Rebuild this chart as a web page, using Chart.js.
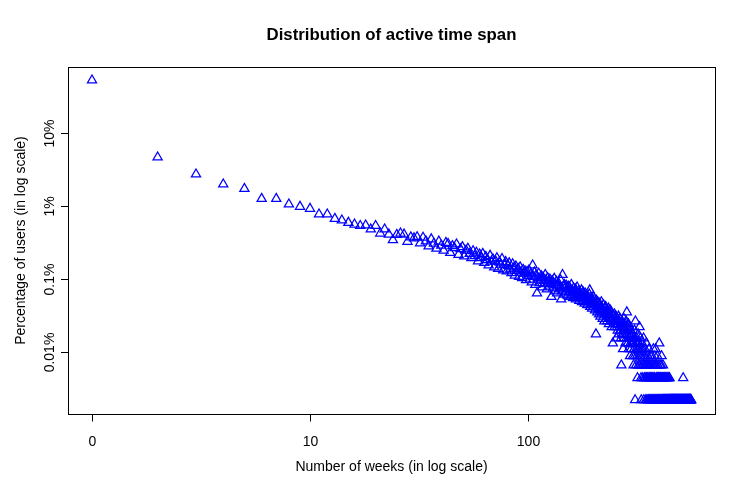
<!DOCTYPE html>
<html><head><meta charset="utf-8">
<script src="https://cdn.jsdelivr.net/npm/chart.js@4.4.1/dist/chart.umd.min.js"></script>
<style>html,body{margin:0;padding:0;background:#fff;}#wrap{width:750px;height:500px;}</style>
</head><body><div id="wrap"><canvas id="c" width="750" height="500"></canvas></div>
<script>
const chartTitle = 'Distribution of active time span';
const xAxisTitle = 'Number of weeks (in log scale)';
const yAxisTitle = 'Percentage of users (in log scale)';
const totalUsers = 45500;

// number of users per active-time-span week (week index = position + first week)
const usersWeeks001to030 = [24000,2113,1236,901,785,573,573,480,446,419,350,350,305,290,269,255,244,248,218,244,192,218,186,156,184,192,186,148,170,165];
const usersWeeks031to100 = [171,141,168,150,128,160,139,119,149,131,112,143,138,104,129,121,136,98,117,125,93,112,119,101,88,110,94,105,80,99,
  88,101,76,92,83,70,95,79,85,66,80,88,63,77,72,86,60,71,78,58,69,75,62,55,73,64,51,68,59,63,49,66,56,47,61,54,58,44,57,50];
const usersWeeks101to200 = [60,45,53,41,70,49,56,38,51,29,47,54,40,45,50,35,48,43,39,52,44,33,47,41,36,45,39,26,43,34,40,46,31,38,42,29,37,40,33,35,44,24,31,52,36,28,38,34,30,37,
  33,27,36,30,35,26,32,38,28,31,25,34,29,27,33,24,30,35,26,28,31,23,29,27,25,32,22,28,30,24,26,21,29,25,23,27,20,26,24,22,28,32,19,24,21,25,18,23,26,20];
const usersWeeks201to300 = [21,24,17,20,8,23,19,16,22,18,20,15,21,17,14,19,22,16,18,13,17,20,15,12,18,16,19,13,15,17,12,16,14,18,11,15,13,17,12,14,16,10,13,15,6,12,14,11,15,10,
  13,11,14,7,12,10,13,9,11,14,8,12,10,13,9,11,7,3,10,12,8,11,5,9,13,7,10,8,11,6,9,12,7,16,8,10,6,9,11,5,8,7,10,4,6,9,5,8,7,6];
const usersWeeks301to400 = [6,8,4,6,3,7,5,9,4,1,12,6,3,5,7,4,6,2,5,8,3,5,6,4,10,3,5,7,4,2,1,5,3,6,4,2,5,3,7,1,4,2,3,5,2,4,1,3,6,2,
  1,3,2,4,1,2,3,1,5,2,1,3,2,4,1,2,3,1,2,4,1,2,3,1,2,5,1,3,2,1,2,4,1,3,5,1,2,3,1,2,1,4,2,1,3,2,1,2,1,6];
const usersWeeks401to500 = [2,1,3,1,2,1,2,3,1,4,2,1,1,2,1,3,1,2,1,1,2,1,1,2,1,1,2,1,1,2,1,1,1,2,1,1,2,1,2,1,1,1,2,1,1,2,1,1,1,1,
  1,1,1,1,1,1,1,1,1,1,1,1,1,1,1,1,1,1,1,1,1,1,1,1,1,1,1,1,1,1,1,1,1,1,1,1,1,1,1,1,1,1,1,1,1,1,1,1,1,1];
const usersWeeks501to560 = [1,1,1,1,1,1,1,1,1,1,1,1,1,1,2,1,1,1,1,1,1,1,1,1,1,1,1,1,1,1,1,1,1,1,1,1,1,1,1,1,1,1,1,1,1,1,1,1,1,1,1,1,1,1,1,1,1,1,1,1];

const xTickValues = [1, 10, 100];
const xTickLabels = ['0', '10', '100'];
const yTickValues = [10, 1, 0.1, 0.01];
const yTickLabels = ['10%', '1%', '0.1%', '0.01%'];

const weeklyUsers = [].concat(usersWeeks001to030, usersWeeks031to100, usersWeeks101to200,
  usersWeeks201to300, usersWeeks301to400, usersWeeks401to500, usersWeeks501to560);
const points = weeklyUsers.map((n, i) => ({ x: i + 1, y: n / totalUsers * 100 }));

const FONT = '"Liberation Sans", Arial, Helvetica, sans-serif';

const rBase = {
  id: 'rBase',
  afterDraw(chart) {
    const ctx = chart.ctx, a = chart.chartArea, xs = chart.scales.x, ys = chart.scales.y;
    ctx.save();
    ctx.strokeStyle = '#000';
    ctx.fillStyle = '#000';
    ctx.lineWidth = 1;
    const L = Math.round(a.left), T = Math.round(a.top), R = Math.round(a.right), B = Math.round(a.bottom);
    ctx.strokeRect(L + 0.5, T + 0.5, R - L, B - T);
    ctx.font = '14px ' + FONT;
    ctx.textAlign = 'center';
    ctx.textBaseline = 'alphabetic';
    xTickValues.forEach((v, i) => {
      const px = Math.round(xs.getPixelForValue(v)) + 0.5;
      ctx.beginPath(); ctx.moveTo(px, B + 0.5); ctx.lineTo(px, B + 7.5); ctx.stroke();
      ctx.fillText(xTickLabels[i], px, B + 31.5);
    });
    yTickValues.forEach((v, i) => {
      const py = Math.round(ys.getPixelForValue(v)) + 0.5;
      ctx.beginPath(); ctx.moveTo(L - 7, py); ctx.lineTo(L + 0.5, py); ctx.stroke();
      ctx.save();
      ctx.translate(L - 14.5, py);
      ctx.rotate(-Math.PI / 2);
      ctx.fillText(yTickLabels[i], 0, 0);
      ctx.restore();
    });
    ctx.fillText(xAxisTitle, (a.left + a.right) / 2, B + 57);
    ctx.save();
    ctx.translate(L - 43, (a.top + a.bottom) / 2);
    ctx.rotate(-Math.PI / 2);
    ctx.fillText(yAxisTitle, 0, 0);
    ctx.restore();
    ctx.font = 'bold 16.8px ' + FONT;
    ctx.fillText(chartTitle, (a.left + a.right) / 2, 39.5);
    ctx.restore();
  }
};

new Chart(document.getElementById('c'), {
  type: 'scatter',
  data: {
    datasets: [{
      data: points,
      pointStyle: 'triangle',
      pointRadius: 5.3,
      pointHoverRadius: 5.3,
      borderColor: '#0000ff',
      backgroundColor: 'rgba(0,0,0,0)',
      borderWidth: 1.25,
      clip: false
    }]
  },
  options: {
    responsive: false,
    animation: false,
    devicePixelRatio: 1,
    events: [],
    layout: { padding: { left: 68, top: 67, right: 35, bottom: 86 } },
    plugins: { legend: { display: false }, tooltip: { enabled: false }, title: { display: false } },
    scales: {
      x: { type: 'logarithmic', min: 0.776, max: 720.8, display: false, bounds: 'data' },
      y: { type: 'logarithmic', min: 0.001415, max: 80.19, display: false, bounds: 'data' }
    }
  },
  plugins: [rBase]
});
</script>
</body></html>
